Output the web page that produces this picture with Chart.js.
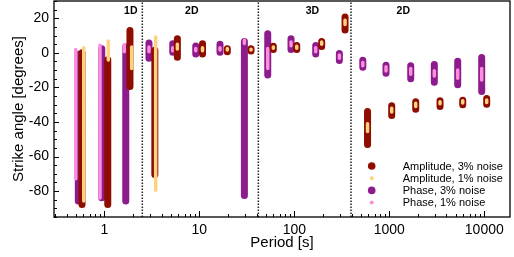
<!DOCTYPE html>
<html>
<head>
<meta charset="utf-8">
<script src="https://cdn.jsdelivr.net/npm/chart.js@4.4.1/dist/chart.umd.min.js"></script>
<style>
  html, body { margin: 0; padding: 0; background: #fff; }
  #wrap { width: 514px; height: 257px; }
</style>
</head>
<body>
<div id="wrap"><canvas id="strikeChart"></canvas></div>
<script>
// periods [s]; amplitude and phase are shifted a little so the bars don't sit on top of each other
var phase3Periods = [0.532, 0.939, 1.68, 2.95, 5.25, 9.17, 16.5, 29.8, 52.5, 92.3, 168, 298, 526, 923, 1680, 2977, 5250, 9390];
var phase1Periods = [0.50, 0.90, 1.62, 2.95, 5.25, 9.17, 16.5, 29.8, 52.5, 92.3, 168, 298, 526, 923, 1680, 2977, 5250, 9390];
var amp3Periods = [0.582, 1.086, 1.86, 3.40, 5.87, 10.8, 19.7, 35, 60.1, 106, 194, 342, 590, 1060, 1897, 3420, 5930, 10600];
var amp1Periods = [0.607, 1.10, 1.94, 3.47, 5.87, 10.8, 19.7, 35, 60.1, 106, 194, 342, 590, 1060, 1897, 3420, 5930, 10600];

// strike ranges [degrees]
var amp3High = [0.1, -4, 13, 1.5, 8.2, 5.3, 2.4, 2.4, 3.8, 4.3, 6.6, 20.7, -34, -30.6, -28.3, -27.7, -27.4, -26.4];
var amp3Low = [-87.7, -87.7, -19.5, -70.4, -2.6, -0.7, 0.7, 1, 2, 2, 3.6, 13.2, -53.1, -36.2, -32.6, -31, -30, -29.7];
var amp1High = [3, 6.9, 3.4, 9.2, 5, 3, 2.5, 2.1, 3.4, 3.8, 6.3, 18.8, -41, -32.1, -29.2, -28.3, -27.7, -27.3];
var amp1Low = [-85.8, -4.2, -9, -79.5, 2.2, 1.2, 1.6, 1.6, 2.6, 2.6, 4.9, 16.4, -45.5, -34.3, -31, -29.5, -29.1, -28.7];
var phase3High = [-0.8, 2.4, 3.4, 5.7, 5.3, 4, 4.9, 6.6, 11.1, 8.2, 4.2, -0.4, -4.3, -7.2, -7.5, -6.8, -4.9, -2.7];
var phase3Low = [-85.8, -83.9, -85.8, -3.2, 0.3, -0.7, 0.3, -82.5, -12.8, 2, -0.7, -4.5, -8.4, -11.8, -15, -17, -18.5, -22.4];
var phase1High = [1.9, 4.4, 4.8, 3.4, 2.9, 2.5, 3, 7.3, 2.5, 6.3, 3, -1.3, -5.6, -8.1, -9.1, -10.4, -10, -9.1];
var phase1Low = [-72.8, -84, 0.7, 0.7, 1.2, 1.2, 1.6, 5.4, -9, 4.1, 0.7, -3.2, -7.4, -10.5, -12.4, -13.4, -14.7, -15.7];

// dimensionality boundaries and labels
var regionBounds = [2.51, 41.8, 395];
var regionNames = ['1D', '2D', '3D', '2D'];
var regionNameAt = [1.90, 8.32, 155, 1404];

var xTickLabels = [1, 10, 100, 1000, 10000];
var yTickLabels = [20, 0, -20, -40, -60, -80];

Chart.defaults.font.family = "'Liberation Sans', Arial, Helvetica, sans-serif";
Chart.defaults.color = '#000';

function rangePoints(periods, low, high) {
  var pts = [];
  periods.forEach(function(p, i) {
    pts.push({x: p, y: low[i]}, {x: p, y: high[i]}, {x: p, y: null});
  });
  return pts;
}

function rangeSet(label, periods, low, high, color, width, order, dot) {
  return {
    label: label,
    data: rangePoints(periods, low, high),
    showLine: true,
    spanGaps: false,
    borderColor: color,
    backgroundColor: color,
    borderWidth: width,
    borderCapStyle: 'round',
    pointRadius: 0,
    pointHoverRadius: 0,
    order: order,
    legendDot: dot
  };
}

var datasets = [
  rangeSet('Amplitude, 3% noise', amp3Periods, amp3Low, amp3High, '#8e0c00', 7, 2, 3.8),
  rangeSet('Amplitude, 1% noise', amp1Periods, amp1Low, amp1High, '#ffd27f', 3.5, 1, 2),
  rangeSet('Phase, 3% noise', phase3Periods, phase3Low, phase3High, '#8e1b8e', 7, 4, 3.8),
  rangeSet('Phase, 1% noise', phase1Periods, phase1Low, phase1High, '#fb8fdc', 3.5, 3, 2)
];

regionBounds.forEach(function(b) {
  datasets.push({
    label: '',
    isBoundary: true,
    data: [{x: b, y: -95}, {x: b, y: 30}],
    showLine: true,
    borderColor: '#222',
    borderWidth: 1.5,
    borderDash: [1.5, 1.5],
    pointRadius: 0,
    order: 10
  });
});

var extras = {
  id: 'extras',
  afterDatasetsDraw: function(chart) {
    var ctx = chart.ctx, a = chart.chartArea;
    var xs = chart.scales.x, ys = chart.scales.y;
    ctx.save();
    ctx.strokeStyle = '#000';
    ctx.lineWidth = 1;
    ctx.beginPath();
    xs.ticks.forEach(function(t) {
      var px = Math.round(xs.getPixelForValue(t.value)) + 0.5;
      var len = xTickLabels.indexOf(t.value) >= 0 ? 6 : 3;
      ctx.moveTo(px, a.bottom);
      ctx.lineTo(px, a.bottom - len);
    });
    ys.ticks.forEach(function(t) {
      var py = Math.round(ys.getPixelForValue(t.value)) + 0.5;
      var len = yTickLabels.indexOf(t.value) >= 0 ? 5 : 3;
      ctx.moveTo(a.left, py);
      ctx.lineTo(a.left + len, py);
    });
    ctx.stroke();
    ctx.lineWidth = 1.3;
    ctx.strokeRect(a.left, a.top, a.right - a.left, a.bottom - a.top);

    ctx.font = "bold 10.5px 'Liberation Sans', Arial, sans-serif";
    ctx.fillStyle = '#000';
    ctx.textAlign = 'center';
    ctx.textBaseline = 'middle';
    regionNames.forEach(function(n, i) {
      ctx.fillText(n, xs.getPixelForValue(regionNameAt[i]), ys.getPixelForValue(24.3));
    });
    ctx.restore();
  },
  afterDraw: function(chart) {
    var ctx = chart.ctx, a = chart.chartArea;
    ctx.save();
    ctx.font = "11px 'Liberation Sans', Arial, sans-serif";
    ctx.textAlign = 'left';
    ctx.textBaseline = 'middle';
    var row = 0;
    chart.data.datasets.forEach(function(ds) {
      if (ds.isBoundary) return;
      var y = a.bottom - 51 + row * 12.2;
      ctx.fillStyle = ds.borderColor;
      ctx.beginPath();
      ctx.arc(a.right - 138.3, y, ds.legendDot, 0, Math.PI * 2);
      ctx.fill();
      ctx.fillStyle = '#000';
      ctx.fillText(ds.label, a.right - 107.3, y + 0.5);
      row++;
    });
    ctx.restore();
  }
};

new Chart(document.getElementById('strikeChart'), {
  type: 'scatter',
  data: {datasets: datasets},
  options: {
    responsive: true,
    maintainAspectRatio: false,
    animation: false,
    events: [],
    layout: {padding: {left: 0, right: 4, top: 1, bottom: 0}},
    plugins: {legend: {display: false}, tooltip: {enabled: false}},
    scales: {
      x: {
        type: 'logarithmic',
        min: 0.295,
        max: 18650,
        afterBuildTicks: function(scale) {
          var ticks = [];
          for (var e = -1; e <= 4; e++) {
            for (var d = 1; d <= 9; d++) {
              var v = d * Math.pow(10, e);
              if (e < 0) v = Math.round(v * 10) / 10;
              if (v >= scale.min && v <= scale.max) ticks.push({value: v});
            }
          }
          scale.ticks = ticks;
        },
        afterFit: function(scale) {
          scale.height = 40;
          scale.paddingLeft = 0;
          scale.paddingRight = 0;
        },
        grid: {display: false, drawTicks: false},
        border: {display: false},
        ticks: {
          autoSkip: false,
          maxRotation: 0,
          padding: 5,
          font: {size: 14},
          callback: function(v) { return xTickLabels.indexOf(v) >= 0 ? String(v) : ''; }
        },
        title: {display: true, text: 'Period [s]', font: {size: 15}, padding: {top: 0, bottom: 5}}
      },
      y: {
        min: -95,
        max: 30,
        afterBuildTicks: function(scale) {
          var ticks = [];
          for (var v = -95; v <= 30; v += 5) ticks.push({value: v});
          scale.ticks = ticks;
        },
        afterFit: function(scale) {
          scale.width = 54;
          scale.paddingTop = 0;
          scale.paddingBottom = 0;
        },
        grid: {display: false, drawTicks: false},
        border: {display: false},
        ticks: {
          autoSkip: false,
          padding: 5,
          font: {size: 14},
          callback: function(v) { return yTickLabels.indexOf(v) >= 0 ? String(v) : ''; }
        },
        title: {display: true, text: 'Strike angle [degrees]', font: {size: 15}, padding: {top: 10, bottom: 0}}
      }
    }
  },
  plugins: [extras]
});
</script>
</body>
</html>
